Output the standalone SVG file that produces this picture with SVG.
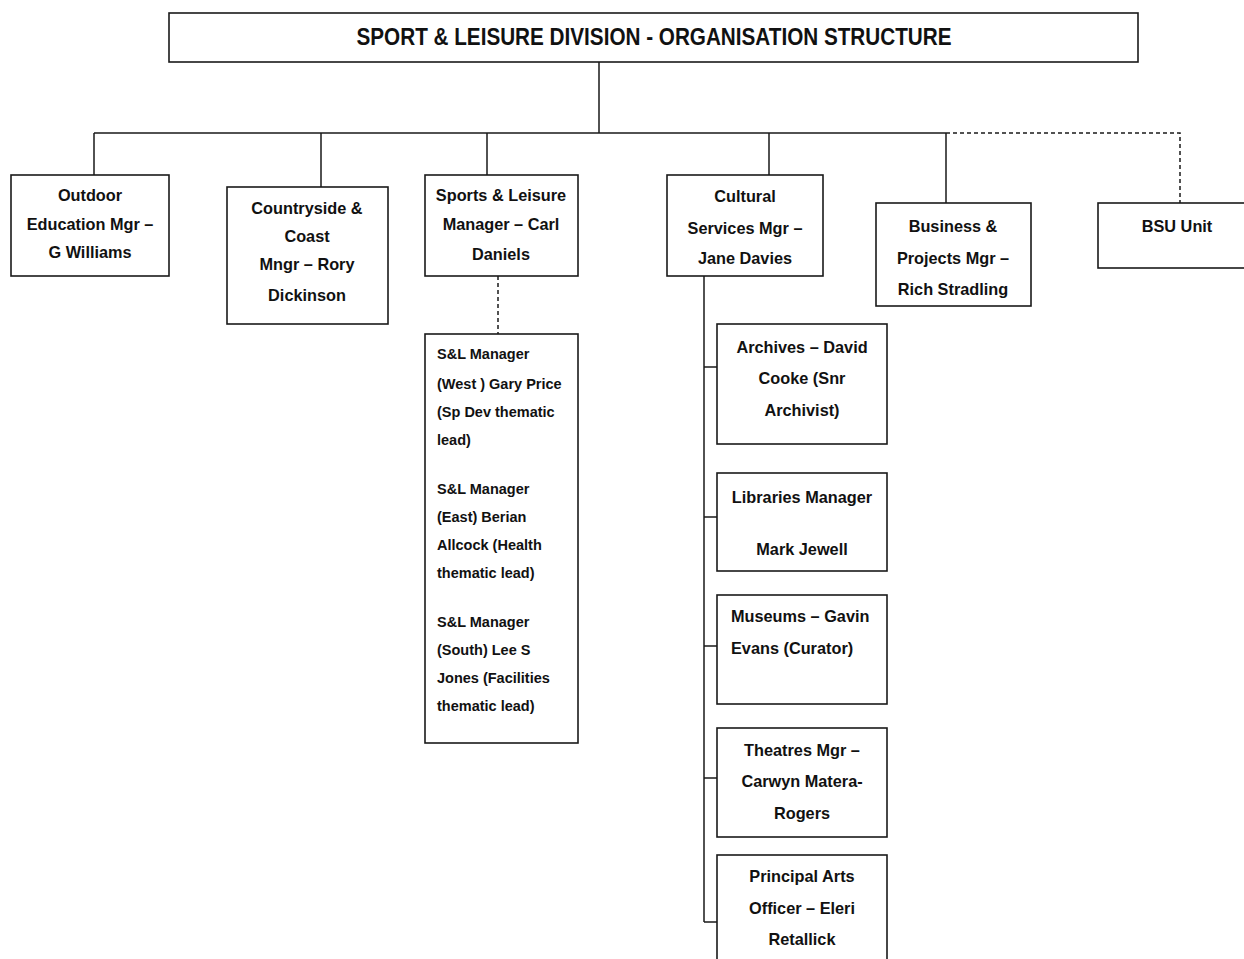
<svg xmlns="http://www.w3.org/2000/svg" width="1244" height="959" viewBox="0 0 1244 959">
<style>
.box{fill:#fff;stroke:#1a1a1a;stroke-width:1.6}
.ln{fill:none;stroke:#1a1a1a;stroke-width:1.5}
.dash{fill:none;stroke:#1a1a1a;stroke-width:1.5;stroke-dasharray:4 3}
.t{font-family:"Liberation Sans",Arial,sans-serif;font-weight:bold;font-size:16.3px;fill:#111;text-anchor:middle}
.tl{font-family:"Liberation Sans",Arial,sans-serif;font-weight:bold;font-size:16.3px;fill:#111}
.s{font-family:"Liberation Sans",Arial,sans-serif;font-weight:bold;font-size:14.5px;fill:#111}
.title{font-family:"Liberation Sans",Arial,sans-serif;font-weight:bold;font-size:24px;fill:#111;text-anchor:middle}
</style>
<rect width="1244" height="959" fill="#fff"/>
<g id="connectors">
<path class="ln" d="M599 62V133M94 133H946M94 133V175M321 133V187M487 133V175M769 133V175M946 133V203"/>
<path class="dash" d="M946 133H1180V203"/>
<path class="dash" d="M498 276V334"/>
<path class="ln" d="M704 276V922M704 367H717M704 517H717M704 646H717M704 778H717M704 922H717"/>
</g>
<g id="title">
<rect class="box" x="169" y="13" width="969" height="49"/>
<text class="title" x="654" y="45" textLength="595" lengthAdjust="spacingAndGlyphs">SPORT &amp; LEISURE DIVISION - ORGANISATION STRUCTURE</text>
</g>
<g id="outdoor">
<rect class="box" x="11" y="175" width="158" height="101"/>
<text class="t" x="90" y="201">Outdoor</text>
<text class="t" x="90" y="230">Education Mgr –</text>
<text class="t" x="90" y="258">G Williams</text>
</g>
<g id="countryside">
<rect class="box" x="227" y="187" width="161" height="137"/>
<text class="t" x="307" y="214">Countryside &amp;</text>
<text class="t" x="307" y="242">Coast</text>
<text class="t" x="307" y="270">Mngr – Rory</text>
<text class="t" x="307" y="301">Dickinson</text>
</g>
<g id="sportsleisure">
<rect class="box" x="425" y="175" width="153" height="101"/>
<text class="t" x="501" y="201">Sports &amp; Leisure</text>
<text class="t" x="501" y="230">Manager – Carl</text>
<text class="t" x="501" y="260">Daniels</text>
</g>
<g id="cultural">
<rect class="box" x="667" y="175" width="156" height="101"/>
<text class="t" x="745" y="202">Cultural</text>
<text class="t" x="745" y="234">Services Mgr –</text>
<text class="t" x="745" y="264">Jane Davies</text>
</g>
<g id="business">
<rect class="box" x="876" y="203" width="155" height="103"/>
<text class="t" x="953" y="232">Business &amp;</text>
<text class="t" x="953" y="264">Projects Mgr –</text>
<text class="t" x="953" y="295">Rich Stradling</text>
</g>
<g id="bsu">
<rect class="box" x="1098" y="203" width="150" height="65"/>
<text class="t" x="1177" y="232">BSU Unit</text>
</g>
<g id="slmanagers">
<rect class="box" x="425" y="334" width="153" height="409"/>
<text class="s" x="437" y="359">S&amp;L Manager</text>
<text class="s" x="437" y="389">(West ) Gary Price</text>
<text class="s" x="437" y="417">(Sp Dev thematic</text>
<text class="s" x="437" y="445">lead)</text>
<text class="s" x="437" y="494">S&amp;L Manager</text>
<text class="s" x="437" y="522">(East) Berian</text>
<text class="s" x="437" y="550">Allcock (Health</text>
<text class="s" x="437" y="578">thematic lead)</text>
<text class="s" x="437" y="627">S&amp;L Manager</text>
<text class="s" x="437" y="655">(South) Lee S</text>
<text class="s" x="437" y="683">Jones (Facilities</text>
<text class="s" x="437" y="711">thematic lead)</text>
</g>
<g id="archives">
<rect class="box" x="717" y="324" width="170" height="120"/>
<text class="t" x="802" y="353">Archives – David</text>
<text class="t" x="802" y="384">Cooke (Snr</text>
<text class="t" x="802" y="416">Archivist)</text>
</g>
<g id="libraries">
<rect class="box" x="717" y="473" width="170" height="98"/>
<text class="t" x="802" y="503">Libraries Manager</text>
<text class="t" x="802" y="555">Mark Jewell</text>
</g>
<g id="museums">
<rect class="box" x="717" y="595" width="170" height="109"/>
<text class="tl" x="731" y="622">Museums – Gavin</text>
<text class="tl" x="731" y="654">Evans (Curator)</text>
</g>
<g id="theatres">
<rect class="box" x="717" y="728" width="170" height="109"/>
<text class="t" x="802" y="756">Theatres Mgr –</text>
<text class="t" x="802" y="787">Carwyn Matera-</text>
<text class="t" x="802" y="819">Rogers</text>
</g>
<g id="principalarts">
<rect class="box" x="717" y="855" width="170" height="120"/>
<text class="t" x="802" y="882">Principal Arts</text>
<text class="t" x="802" y="914">Officer – Eleri</text>
<text class="t" x="802" y="945">Retallick</text>
</g>
</svg>
